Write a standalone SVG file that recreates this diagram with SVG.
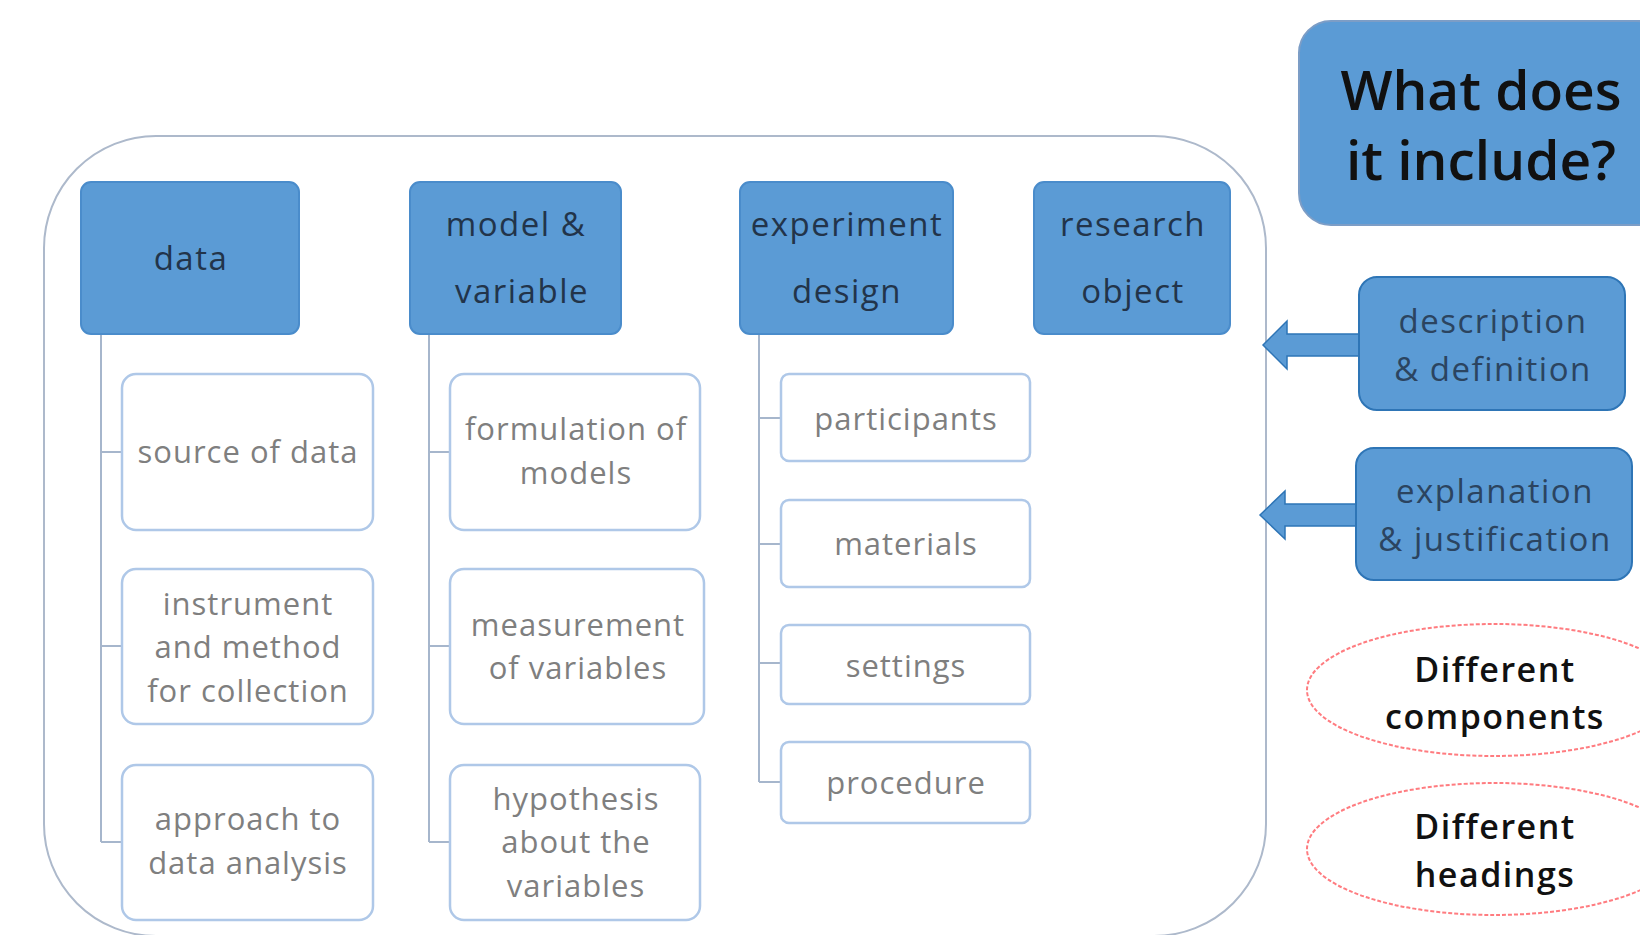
<svg xmlns="http://www.w3.org/2000/svg" width="1640" height="935" viewBox="0 0 1640 935">
<style>
.hdr{fill:#5B9BD5;stroke:#4A8CCB;stroke-width:2}
.child{fill:#FFFFFF;stroke:#AFC8E8;stroke-width:2.5}
.side{fill:#5B9BD5;stroke:#2E75B6;stroke-width:2}
.ht{font-family:"Open Sans","Liberation Sans",sans-serif;font-size:33px;letter-spacing:1.5px;fill:#22344A;text-anchor:middle}
.ct{font-family:"Open Sans","Liberation Sans",sans-serif;font-size:31px;letter-spacing:1px;fill:#7F7F7F;text-anchor:middle}
.st{font-family:"Open Sans","Liberation Sans",sans-serif;font-size:33px;letter-spacing:1.5px;fill:#2B4460;text-anchor:middle}
.big{font-family:"Open Sans","Liberation Sans",sans-serif;font-size:55px;font-weight:600;fill:#111111;text-anchor:middle}
.et{font-family:"Open Sans","Liberation Sans",sans-serif;font-size:34px;letter-spacing:1.5px;font-weight:600;fill:#111111;text-anchor:middle}
.conn{fill:none;stroke:#A6B6CC;stroke-width:2}
.arr{fill:#5B9BD5;stroke:#2E75B6;stroke-width:1.5}
.ell{fill:none;stroke:#FF7C80;stroke-width:2;stroke-dasharray:4 2}
</style>
<rect width="1640" height="935" fill="#FFFFFF"/>
<g id="frame">
<rect x="44" y="136" width="1222" height="800" rx="112" ry="112" fill="none" stroke="#ADB9CB" stroke-width="2"/>
</g>
<g id="connectors">
<path class="conn" d="M101 334 V842 M101 452 H122 M101 646 H122 M101 842 H122"/>
<path class="conn" d="M429 334 V842 M429 452 H450 M429 646 H450 M429 842 H450"/>
<path class="conn" d="M759 334 V782 M759 418 H781 M759 544 H781 M759 663 H781 M759 782 H781"/>
<polygon class="arr" points="1263,345 1287,321 1287,334 1360,334 1360,356 1287,356 1287,369"/>
<polygon class="arr" points="1260,515 1285,491 1285,504 1357,504 1357,526 1285,526 1285,539"/>
</g>
<g id="data">
<rect class="hdr" x="81" y="182" width="218" height="152" rx="10"/>
<text class="ht" x="191" y="270">data</text>
</g>
<g id="model-variable">
<rect class="hdr" x="410" y="182" width="211" height="152" rx="10"/>
<text class="ht" x="516" y="236">model &amp;</text>
<text class="ht" x="522" y="303">variable</text>
</g>
<g id="experiment-design">
<rect class="hdr" x="740" y="182" width="213" height="152" rx="10"/>
<text class="ht" x="847" y="236">experiment</text>
<text class="ht" x="847" y="303">design</text>
</g>
<g id="research-object">
<rect class="hdr" x="1034" y="182" width="196" height="152" rx="10"/>
<text class="ht" x="1133" y="236">research</text>
<text class="ht" x="1133" y="303">object</text>
</g>
<g id="source-of-data">
<rect class="child" x="122" y="374" width="251" height="156" rx="14"/>
<text class="ct" x="248" y="463">source of data</text>
</g>
<g id="instrument">
<rect class="child" x="122" y="569" width="251" height="155" rx="14"/>
<text class="ct" x="248" y="615">instrument</text>
<text class="ct" x="248" y="658">and method</text>
<text class="ct" x="248" y="702">for collection</text>
</g>
<g id="approach">
<rect class="child" x="122" y="765" width="251" height="155" rx="14"/>
<text class="ct" x="248" y="830">approach to</text>
<text class="ct" x="248" y="874">data analysis</text>
</g>
<g id="formulation">
<rect class="child" x="450" y="374" width="250" height="156" rx="14"/>
<text class="ct" x="576" y="440">formulation of</text>
<text class="ct" x="576" y="484">models</text>
</g>
<g id="measurement">
<rect class="child" x="450" y="569" width="254" height="155" rx="14"/>
<text class="ct" x="578" y="636">measurement</text>
<text class="ct" x="578" y="679">of variables</text>
</g>
<g id="hypothesis">
<rect class="child" x="450" y="765" width="250" height="155" rx="14"/>
<text class="ct" x="576" y="810">hypothesis</text>
<text class="ct" x="576" y="853">about the</text>
<text class="ct" x="576" y="897">variables</text>
</g>
<g id="participants">
<rect class="child" x="781" y="374" width="249" height="87" rx="8"/>
<text class="ct" x="906" y="430">participants</text>
</g>
<g id="materials">
<rect class="child" x="781" y="500" width="249" height="87" rx="8"/>
<text class="ct" x="906" y="555">materials</text>
</g>
<g id="settings">
<rect class="child" x="781" y="625" width="249" height="79" rx="8"/>
<text class="ct" x="906" y="677">settings</text>
</g>
<g id="procedure">
<rect class="child" x="781" y="742" width="249" height="81" rx="8"/>
<text class="ct" x="906" y="794">procedure</text>
</g>
<g id="what-does-it-include">
<rect x="1299" y="21" width="370" height="204" rx="32" fill="#5B9BD5" stroke="#7C9DC6" stroke-width="2"/>
<text class="big" x="1481" y="110">What does</text>
<text class="big" x="1481" y="180">it include?</text>
</g>
<g id="description-definition">
<rect class="side" x="1359" y="277" width="266" height="133" rx="18"/>
<text class="st" x="1493" y="333">description</text>
<text class="st" x="1493" y="381">&amp; definition</text>
</g>
<g id="explanation-justification">
<rect class="side" x="1356" y="448" width="276" height="132" rx="18"/>
<text class="st" x="1495" y="503">explanation</text>
<text class="st" x="1495" y="551">&amp; justification</text>
</g>
<g id="different-components">
<ellipse class="ell" cx="1494" cy="690" rx="187" ry="66"/>
<text class="et" x="1495" y="682">Different</text>
<text class="et" x="1495" y="729">components</text>
</g>
<g id="different-headings">
<ellipse class="ell" cx="1494" cy="849" rx="187" ry="66"/>
<text class="et" x="1495" y="839">Different</text>
<text class="et" x="1495" y="887">headings</text>
</g>
</svg>
